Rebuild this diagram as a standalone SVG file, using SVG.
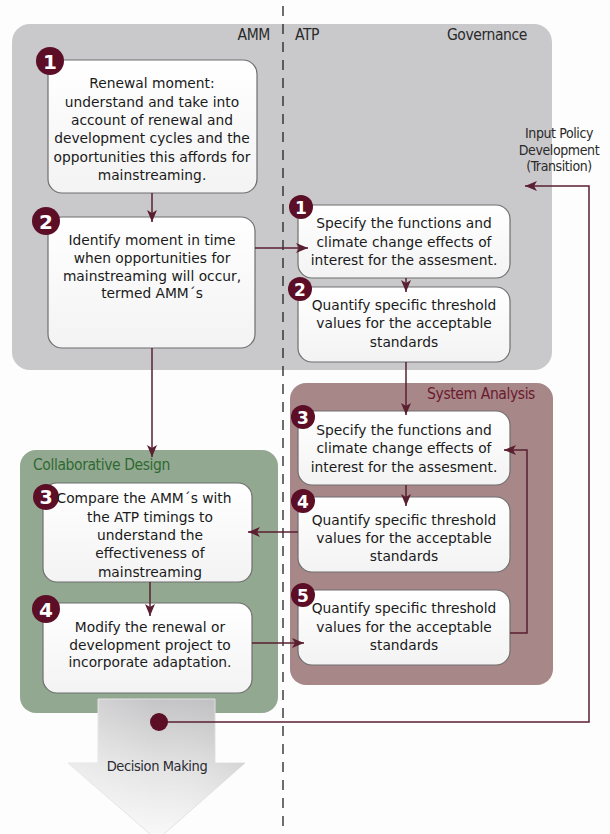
<svg xmlns="http://www.w3.org/2000/svg" width="610" height="834" viewBox="0 0 610 834">
  <style>
    .panel-gray { fill: #c9c9cc; }
    .panel-sa { fill: #a88788; }
    .panel-green { fill: #93a890; }
    .node { fill: url(#nodeGrad); stroke: #6f6f6f; stroke-width: 1.2; }
    .badge { fill: #5c0e26; }
    .badge-t { font-family: "DejaVu Sans", sans-serif; font-weight: bold; fill: #ffffff; text-anchor: middle; }
    .txt { font-family: "DejaVu Sans", "Liberation Sans", sans-serif; font-size: 13.8px; fill: #1a1a1a; text-anchor: middle; }
    .title { font-family: "DejaVu Sans Condensed", "DejaVu Sans", sans-serif; font-stretch: condensed; font-size: 15.5px; letter-spacing: -0.4px; fill: #2a2a2a; }
    .conn { fill: none; stroke: #5a1f30; stroke-width: 1.5; }
  </style>
  <defs>
    <linearGradient id="nodeGrad" x1="0" y1="0" x2="0" y2="1">
      <stop offset="0" stop-color="#ffffff"/>
      <stop offset="1" stop-color="#f3f3f3"/>
    </linearGradient>
    <linearGradient id="dmGrad" x1="0" y1="0" x2="0" y2="1">
      <stop offset="0" stop-color="#c4c4c6"/>
      <stop offset="0.5" stop-color="#e4e4e4"/>
      <stop offset="1" stop-color="#fafafa"/>
    </linearGradient>
    <linearGradient id="dmSide" x1="0" y1="0" x2="1" y2="0">
      <stop offset="0" stop-color="#ffffff" stop-opacity="0.35"/>
      <stop offset="0.5" stop-color="#ffffff" stop-opacity="0"/>
      <stop offset="1" stop-color="#000000" stop-opacity="0.06"/>
    </linearGradient>
    <marker id="arrow" viewBox="0 0 12 10" refX="12" refY="5" markerWidth="12" markerHeight="10" markerUnits="userSpaceOnUse" orient="auto">
      <path d="M0,0 L12,5 L0,10 L3,5 Z" fill="#5a1f30"/>
    </marker>
  </defs>

  <rect width="610" height="834" fill="#fdfdfd"/>

  <!-- Panels -->
  <g id="panel-governance">
    <rect class="panel-gray" x="12" y="24" width="540" height="346" rx="18"/>
    <text class="title" x="270" y="40" text-anchor="end">AMM</text>
    <text class="title" x="295" y="40">ATP</text>
    <text class="title" x="527" y="40" text-anchor="end">Governance</text>
  </g>
  <g id="panel-system-analysis">
    <rect class="panel-sa" x="290" y="383" width="263" height="302" rx="16"/>
    <text class="title" x="535" y="399" text-anchor="end" style="fill:#6a1a30">System Analysis</text>
  </g>
  <g id="panel-collaborative">
    <rect class="panel-green" x="20" y="450" width="258" height="263" rx="16"/>
    <text class="title" x="33" y="470" style="fill:#2f6a33">Collaborative Design</text>
  </g>

  <!-- Decision Making arrow -->
  <g id="decision-making">
    <polygon points="98,699 215,699 215,763 245,763 157,840 68,763 98,763" fill="url(#dmGrad)" stroke="#e2e2e2" stroke-width="1"/>
    <polygon points="98,699 215,699 215,763 245,763 157,840 68,763 98,763" fill="url(#dmSide)"/>
    <text class="title" x="157" y="771" text-anchor="middle" style="font-size:14.5px;fill:#2a2a33">Decision Making</text>
  </g>

  <!-- Dashed divider -->
  <line x1="283" y1="6" x2="283" y2="834" stroke="#222" stroke-width="1.3" stroke-dasharray="10 8"/>

  <!-- Input policy label -->
  <g id="input-policy">
    <text class="title" x="559" y="138" text-anchor="middle" style="font-size:14px">Input Policy</text>
    <text class="title" x="559" y="154.5" text-anchor="middle" style="font-size:14px">Development</text>
    <text class="title" x="559" y="171" text-anchor="middle" style="font-size:14px">(Transition)</text>
  </g>

  <!-- AMM nodes -->
  <g id="amm-1">
    <rect class="node" x="48" y="60" width="209" height="133" rx="14"/>
    <circle class="badge" cx="50" cy="61" r="14"/>
    <text class="badge-t" x="50" y="68.5" font-size="20">1</text>
    <text class="txt" x="152" y="88">Renewal moment:</text>
    <text class="txt" x="152" y="107">understand and take into</text>
    <text class="txt" x="152" y="125">account of renewal and</text>
    <text class="txt" x="152" y="143">development cycles and the</text>
    <text class="txt" x="152" y="162">opportunities this affords for</text>
    <text class="txt" x="152" y="180">mainstreaming.</text>
  </g>
  <g id="amm-2">
    <rect class="node" x="48" y="217" width="207" height="131" rx="14"/>
    <circle class="badge" cx="46" cy="221" r="14"/>
    <text class="badge-t" x="46" y="228.5" font-size="20">2</text>
    <text class="txt" x="152" y="245">Identify moment in time</text>
    <text class="txt" x="152" y="263">when opportunities for</text>
    <text class="txt" x="152" y="281">mainstreaming will occur,</text>
    <text class="txt" x="152" y="298">termed AMM´s</text>
  </g>
  <g id="amm-3">
    <rect class="node" x="43" y="483" width="209" height="99" rx="14"/>
    <circle class="badge" cx="46" cy="497" r="13"/>
    <text class="badge-t" x="46" y="504" font-size="19">3</text>
    <text class="txt" x="144" y="503">Compare the AMM´s with</text>
    <text class="txt" x="150" y="522">the ATP timings to</text>
    <text class="txt" x="150" y="540">understand the</text>
    <text class="txt" x="150" y="558">effectiveness of</text>
    <text class="txt" x="150" y="577">mainstreaming</text>
  </g>
  <g id="amm-4">
    <rect class="node" x="43" y="603" width="209" height="90" rx="14"/>
    <circle class="badge" cx="46" cy="609" r="14"/>
    <text class="badge-t" x="46" y="616.5" font-size="20">4</text>
    <text class="txt" x="150" y="632">Modify the renewal or</text>
    <text class="txt" x="150" y="650">development project to</text>
    <text class="txt" x="150" y="667">incorporate adaptation.</text>
  </g>

  <!-- ATP nodes -->
  <g id="atp-1">
    <rect class="node" x="298" y="205" width="212" height="73" rx="14"/>
    <circle class="badge" cx="301" cy="207" r="12"/>
    <text class="badge-t" x="301" y="213.5" font-size="17">1</text>
    <text class="txt" x="404" y="228">Specify the functions and</text>
    <text class="txt" x="404" y="247">climate change effects of</text>
    <text class="txt" x="404" y="265">interest for the assesment.</text>
  </g>
  <g id="atp-2">
    <rect class="node" x="298" y="287" width="212" height="75" rx="14"/>
    <circle class="badge" cx="300" cy="289" r="12"/>
    <text class="badge-t" x="300" y="295.5" font-size="17">2</text>
    <text class="txt" x="404" y="310">Quantify specific threshold</text>
    <text class="txt" x="404" y="328">values for the acceptable</text>
    <text class="txt" x="404" y="347">standards</text>
  </g>
  <g id="atp-3">
    <rect class="node" x="298" y="411" width="212" height="74" rx="14"/>
    <circle class="badge" cx="303" cy="417" r="12"/>
    <text class="badge-t" x="303" y="423.5" font-size="17">3</text>
    <text class="txt" x="404" y="435">Specify the functions and</text>
    <text class="txt" x="404" y="453">climate change effects of</text>
    <text class="txt" x="404" y="472">interest for the assesment.</text>
  </g>
  <g id="atp-4">
    <rect class="node" x="298" y="497" width="212" height="75" rx="14"/>
    <circle class="badge" cx="303" cy="501" r="12"/>
    <text class="badge-t" x="303" y="507.5" font-size="17">4</text>
    <text class="txt" x="404" y="525">Quantify specific threshold</text>
    <text class="txt" x="404" y="543">values for the acceptable</text>
    <text class="txt" x="404" y="561">standards</text>
  </g>
  <g id="atp-5">
    <rect class="node" x="298" y="590" width="212" height="75" rx="14"/>
    <circle class="badge" cx="303" cy="595" r="12"/>
    <text class="badge-t" x="303" y="601.5" font-size="17">5</text>
    <text class="txt" x="404" y="613">Quantify specific threshold</text>
    <text class="txt" x="404" y="632">values for the acceptable</text>
    <text class="txt" x="404" y="650">standards</text>
  </g>

  <!-- Connectors -->
  <g id="connectors">
    <line class="conn" x1="152" y1="193" x2="152" y2="222" marker-end="url(#arrow)"/>
    <line class="conn" x1="255" y1="248" x2="308" y2="248" marker-end="url(#arrow)"/>
    <line class="conn" x1="406" y1="278" x2="406" y2="292" marker-end="url(#arrow)"/>
    <line class="conn" x1="406" y1="362" x2="406" y2="415" marker-end="url(#arrow)"/>
    <line class="conn" x1="406" y1="485" x2="406" y2="506" marker-end="url(#arrow)"/>
    <line class="conn" x1="298" y1="532" x2="248" y2="532" marker-end="url(#arrow)"/>
    <line class="conn" x1="252" y1="643" x2="304" y2="643" marker-end="url(#arrow)"/>
    <polyline class="conn" points="510,633 527,633 527,450 504,450" marker-end="url(#arrow)"/>
    <line class="conn" x1="152" y1="348" x2="152" y2="457" marker-end="url(#arrow)"/>
    <line class="conn" x1="150" y1="582" x2="150" y2="616" marker-end="url(#arrow)"/>
    <polyline class="conn" points="159,722 589,722 589,186 525,186" marker-end="url(#arrow)"/>
    <circle cx="159" cy="722" r="9" fill="#5c0e26"/>
  </g>
</svg>
